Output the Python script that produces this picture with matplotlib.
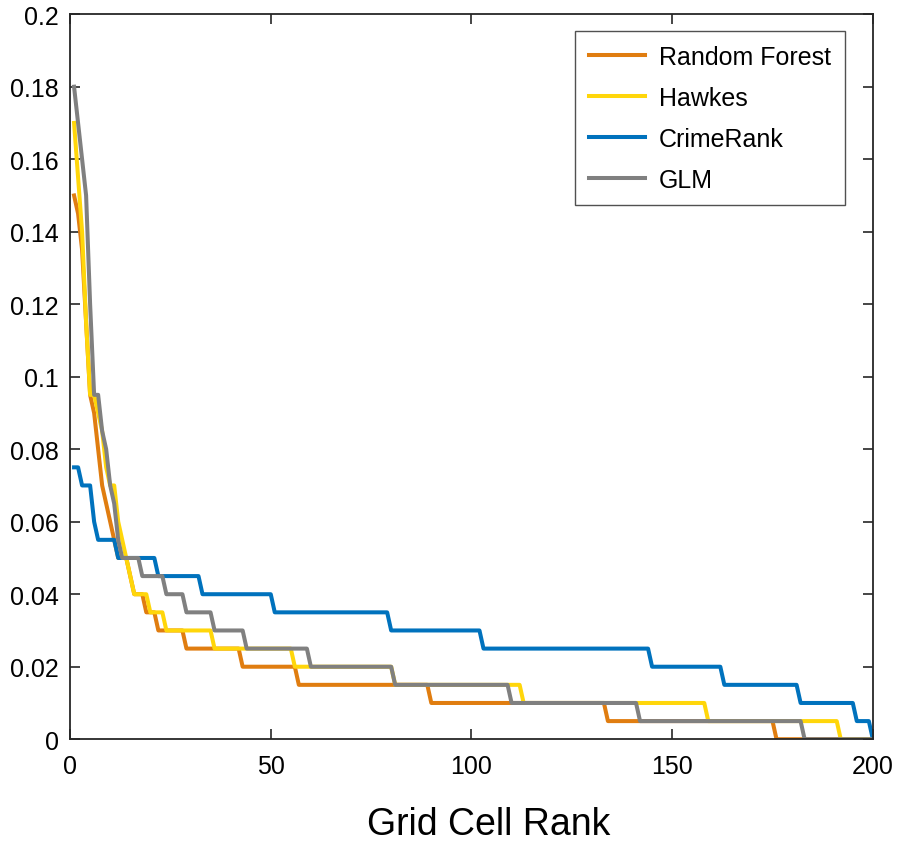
import numpy as np
import matplotlib
matplotlib.use("Agg")
import matplotlib.pyplot as plt

plt.rcParams['font.family'] = ['Liberation Sans', 'DejaVu Sans']

# Values per grid cell rank (1..200), stored as level + last rank of that level
rf_vals = [0.15, 0.145, 0.135, 0.115, 0.095, 0.09, 0.08, 0.07, 0.065, 0.06, 0.055,
           0.05, 0.045, 0.04, 0.035, 0.03, 0.025, 0.02, 0.015, 0.01, 0.005, 0.0]
rf_ends = [1, 2, 3, 4, 5, 6, 7, 8, 9, 10, 11,
           14, 15, 18, 21, 28, 42, 56, 89, 133, 175, 200]

hk_vals = [0.17, 0.155, 0.14, 0.115, 0.095, 0.09, 0.085, 0.075, 0.07, 0.06, 0.055,
           0.05, 0.045, 0.04, 0.035, 0.03, 0.025, 0.02, 0.015, 0.01, 0.005, 0.0]
hk_ends = [1, 2, 3, 4, 6, 7, 8, 9, 11, 12, 13,
           14, 15, 19, 23, 35, 55, 80, 112, 158, 191, 200]

cr_vals = [0.075, 0.07, 0.06, 0.055, 0.05, 0.045, 0.04, 0.035, 0.03, 0.025,
           0.02, 0.015, 0.01, 0.005, 0.0]
cr_ends = [2, 5, 6, 11, 21, 32, 50, 79, 102, 144,
           162, 181, 195, 199, 200]

glm_vals = [0.18, 0.17, 0.16, 0.15, 0.12, 0.095, 0.085, 0.08, 0.07, 0.065, 0.055,
            0.05, 0.045, 0.04, 0.035, 0.03, 0.025, 0.02, 0.015, 0.01, 0.005, 0.0]
glm_ends = [1, 2, 3, 4, 5, 7, 8, 9, 10, 11, 12,
            17, 23, 28, 35, 43, 59, 80, 109, 141, 182, 200]

names = ['Random Forest', 'Hawkes', 'CrimeRank', 'GLM']
colors = ['#E07D10', '#FFD60A', '#0072BD', '#808080']
series = [(rf_vals, rf_ends), (hk_vals, hk_ends), (cr_vals, cr_ends), (glm_vals, glm_ends)]

x_ticks = [0, 50, 100, 150, 200]
y_ticks = [0, 0.02, 0.04, 0.06, 0.08, 0.1, 0.12, 0.14, 0.16, 0.18, 0.2]

rank = np.arange(1, 201)

fig = plt.figure(figsize=(8.98, 8.45), dpi=100)
ax = fig.add_axes([0.078, 0.124, 0.894, 0.858])

for (vals, ends), name, c in zip(series, names, colors):
    counts = np.diff([0] + ends)
    y = np.repeat(vals, counts)
    ax.plot(rank, y, color=c, lw=2.9, label=name)

ax.set_xlim(0, 200)
ax.set_ylim(0, 0.2)
ax.set_xticks(x_ticks)
ax.set_yticks(y_ticks)
ax.set_yticklabels([f"{v:g}" for v in y_ticks])
ax.tick_params(direction='in', length=7, width=1.2, top=True, right=True,
               labelsize=18, color='#262626')
ax.tick_params(axis='y', pad=8)
ax.tick_params(axis='x', pad=11)
for s in ax.spines.values():
    s.set_color('#262626')
    s.set_linewidth(1.3)

ax.set_xlabel('Grid Cell Rank', fontsize=27)
ax.xaxis.set_label_coords(0.522, -0.092)

leg = ax.legend(loc='upper right', bbox_to_anchor=(0.965, 0.977), borderaxespad=0,
                fontsize=18, frameon=True, fancybox=False, handlelength=2.25,
                handletextpad=0.55, borderpad=0.55, labelspacing=0.68)
leg.get_frame().set_edgecolor('#262626')
leg.get_frame().set_linewidth(1.0)

fig.savefig('out.png', dpi=100)
